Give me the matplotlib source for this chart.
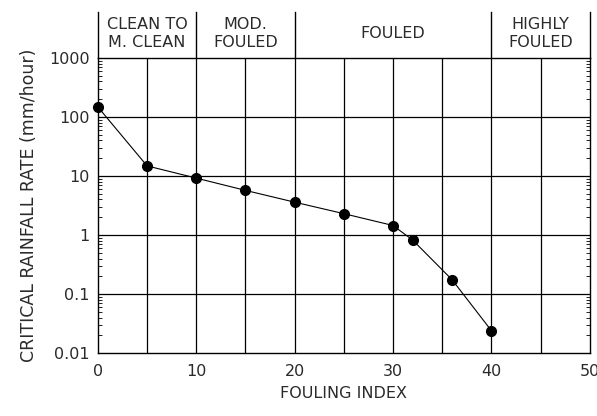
import matplotlib
matplotlib.use("Agg")
import matplotlib.pyplot as plt
import matplotlib.transforms as mtransforms
from matplotlib.ticker import LogLocator, NullFormatter

fouling_index = [0, 5, 10, 15, 20, 25, 30, 32, 36, 40]
rainfall_rate = [147, 14.8, 9.2, 5.7, 3.6, 2.3, 1.45, 0.82, 0.175, 0.024]

x_ticks = [0, 10, 20, 30, 40, 50]
y_ticks = [0.01, 0.1, 1, 10, 100, 1000]
y_tick_labels = ["0.01", "0.1", "1", "10", "100", "1000"]

zone_edges = [0, 10, 20, 40, 50]
zone_labels = ["CLEAN TO\nM. CLEAN", "MOD.\nFOULED", "FOULED", "HIGHLY\nFOULED"]

plt.rcParams['font.family'] = ['DejaVu Sans']
txt_color = "#2a2a2a"

fig = plt.figure(figsize=(5.97, 4.16), dpi=100)
ax = fig.add_axes([0.164, 0.151, 0.824, 0.710])

ax.set_yscale("log")
ax.set_xlim(0, 50)
ax.set_ylim(0.01, 1000)

# grid
for gx in range(5, 50, 5):
    ax.axvline(gx, color="black", lw=0.9, zorder=1)
for gy in [0.1, 1, 10, 100]:
    ax.axhline(gy, color="black", lw=0.9, zorder=1)

ax.plot(fouling_index, rainfall_rate, color="black", lw=0.8, zorder=2)
ax.plot(fouling_index, rainfall_rate, "o", color="black", ms=7, zorder=3, clip_on=False)

ax.set_xticks(x_ticks)
ax.set_xticklabels([str(v) for v in x_ticks])
ax.set_yticks(y_ticks)
ax.set_yticklabels(y_tick_labels)
ax.yaxis.set_minor_locator(LogLocator(base=10, subs=range(2, 10)))
ax.yaxis.set_minor_formatter(NullFormatter())
ax.tick_params(axis="x", length=0, pad=8, labelsize=11.5, labelcolor=txt_color)
ax.tick_params(axis="y", which="major", length=0, pad=6, labelsize=11.5, labelcolor=txt_color)
ax.tick_params(axis="y", which="minor", direction="in", length=3, width=0.6, left=True, right=True)

for s in ax.spines.values():
    s.set_linewidth(1.0)

ax.set_xlabel("FOULING INDEX", fontsize=11.5, color=txt_color, labelpad=5)
ax.set_ylabel("CRITICAL RAINFALL RATE (mm/hour)", fontsize=12.5, color=txt_color, labelpad=8)

trans = mtransforms.blended_transform_factory(ax.transData, ax.transAxes)
for e in zone_edges:
    ax.plot([e, e], [1.0, 1.155], color="black", lw=1.0, transform=trans, clip_on=False)
for i, lab in enumerate(zone_labels):
    cx = (zone_edges[i] + zone_edges[i + 1]) / 2
    ax.text(cx, 1.083, lab, transform=trans, ha="center", va="center",
            fontsize=11.5, color=txt_color, linespacing=1.25)

fig.savefig("out.png", dpi=100)
